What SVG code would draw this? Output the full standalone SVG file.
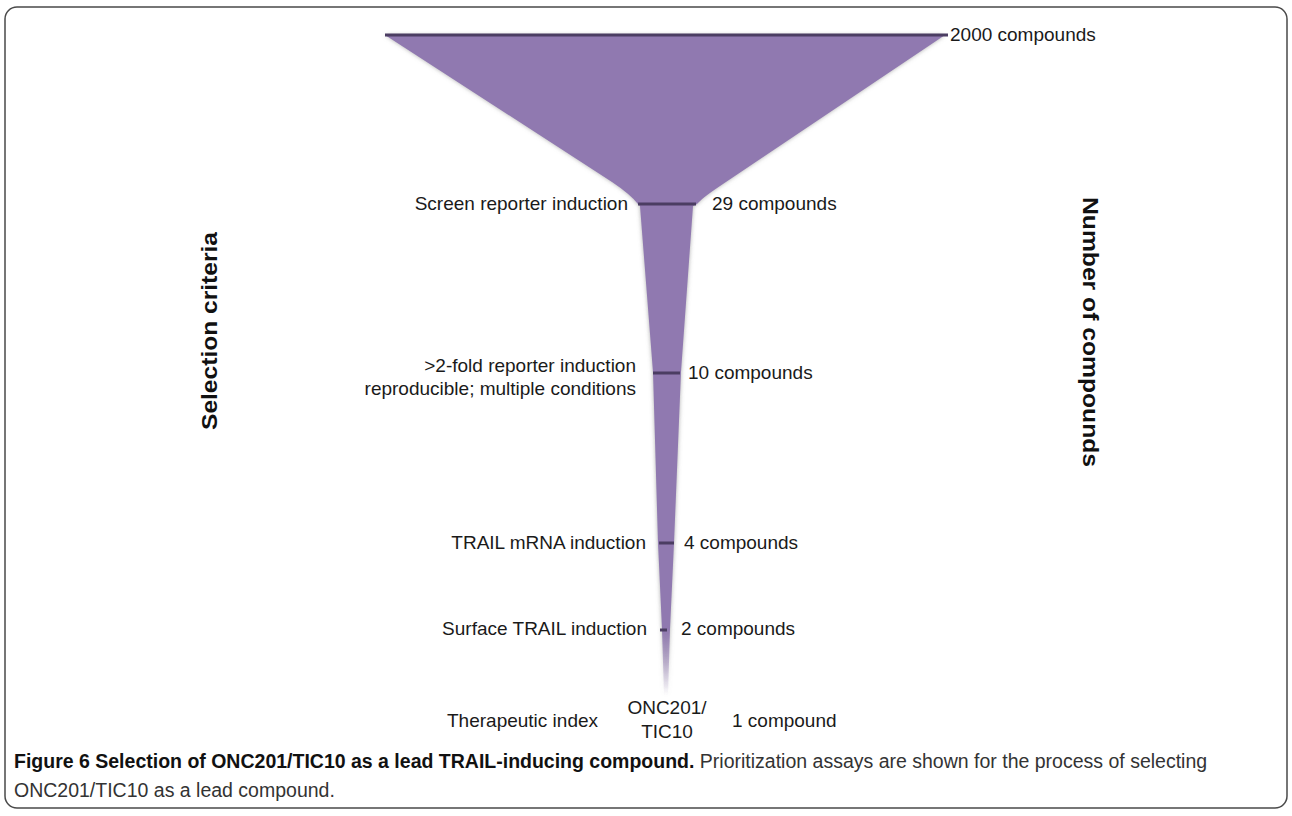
<svg xmlns="http://www.w3.org/2000/svg" width="1292" height="816" viewBox="0 0 1292 816">
<style>
.lbl{font-family:"Liberation Sans",Arial,sans-serif;font-size:19px;fill:#1a1a1a}
.axis{font-family:"Liberation Sans",Arial,sans-serif;font-size:22px;font-weight:bold;fill:#111}
.cap{font-family:"Liberation Sans",Arial,sans-serif;font-size:19.5px;fill:#333}
.capb{font-weight:bold;fill:#111}
.bar{stroke:#4b3d62;stroke-width:3;fill:none}
</style>
<defs>
<filter id="soft" x="-5%" y="-5%" width="110%" height="110%">
<feDropShadow dx="0" dy="0" stdDeviation="2" flood-color="#777" flood-opacity="0.6"/>
</filter>
<linearGradient id="fade" gradientUnits="userSpaceOnUse" x1="0" y1="35" x2="0" y2="695">
<stop offset="0" stop-color="#9079B0"/>
<stop offset="0.9" stop-color="#9079B0"/>
<stop offset="1" stop-color="#9079B0" stop-opacity="0"/>
</linearGradient>
</defs>
<rect x="5" y="7" width="1282" height="801" rx="12" ry="12" fill="#fff" stroke="#4a4a4a" stroke-width="1.5"/>

<g id="funnel">
<path d="M385,35 L945,35 L720,186 Q702,198 697,204 L693,206 L681,372 L674,543 L670,629 L668,695 L664,695 L662,629 L658,543 L653,372 L640,206 L638,204 Q630,194 612,182 Z" fill="url(#fade)" filter="url(#soft)"/>
</g>

<g id="connectors">
<line class="bar" x1="385" y1="35" x2="948" y2="35" stroke-width="2"/>
<line class="bar" x1="638" y1="204" x2="696" y2="204"/>
<line class="bar" x1="653" y1="373" x2="680" y2="373"/>
<line class="bar" x1="659" y1="543" x2="674" y2="543"/>
<line class="bar" x1="660" y1="630" x2="667" y2="630" stroke="#111"/>
</g>

<g id="stage0">
<text class="lbl" x="950" y="41">2000 compounds</text>
</g>
<g id="stage1">
<text class="lbl" x="628" y="210" text-anchor="end">Screen reporter induction</text>
<text class="lbl" x="712" y="210">29 compounds</text>
</g>
<g id="stage2">
<text class="lbl" x="636" y="372" text-anchor="end">&gt;2-fold reporter induction</text>
<text class="lbl" x="636" y="395" text-anchor="end">reproducible; multiple conditions</text>
<text class="lbl" x="688" y="379">10 compounds</text>
</g>
<g id="stage3">
<text class="lbl" x="646" y="549" text-anchor="end">TRAIL mRNA induction</text>
<text class="lbl" x="684" y="549">4 compounds</text>
</g>
<g id="stage4">
<text class="lbl" x="647" y="635" text-anchor="end">Surface TRAIL induction</text>
<text class="lbl" x="681" y="635">2 compounds</text>
</g>
<g id="stage5">
<text class="lbl" x="447" y="727">Therapeutic index</text>
<text class="lbl" x="667" y="714" text-anchor="middle">ONC201/</text>
<text class="lbl" x="667" y="738" text-anchor="middle">TIC10</text>
<text class="lbl" x="732" y="727">1 compound</text>
</g>

<g id="axis-left">
<text class="axis" transform="translate(217,331) rotate(-90)" text-anchor="middle" textLength="198" lengthAdjust="spacingAndGlyphs">Selection criteria</text>
</g>
<g id="axis-right">
<text class="axis" transform="translate(1083,332) rotate(90)" text-anchor="middle" textLength="270" lengthAdjust="spacingAndGlyphs">Number of compounds</text>
</g>

<g id="caption">
<text class="cap" x="14" y="768"><tspan class="capb">Figure 6 Selection of ONC201/TIC10 as a lead TRAIL-inducing compound.</tspan> Prioritization assays are shown for the process of selecting</text>
<text class="cap" x="14" y="797">ONC201/TIC10 as a lead compound.</text>
</g>
</svg>
